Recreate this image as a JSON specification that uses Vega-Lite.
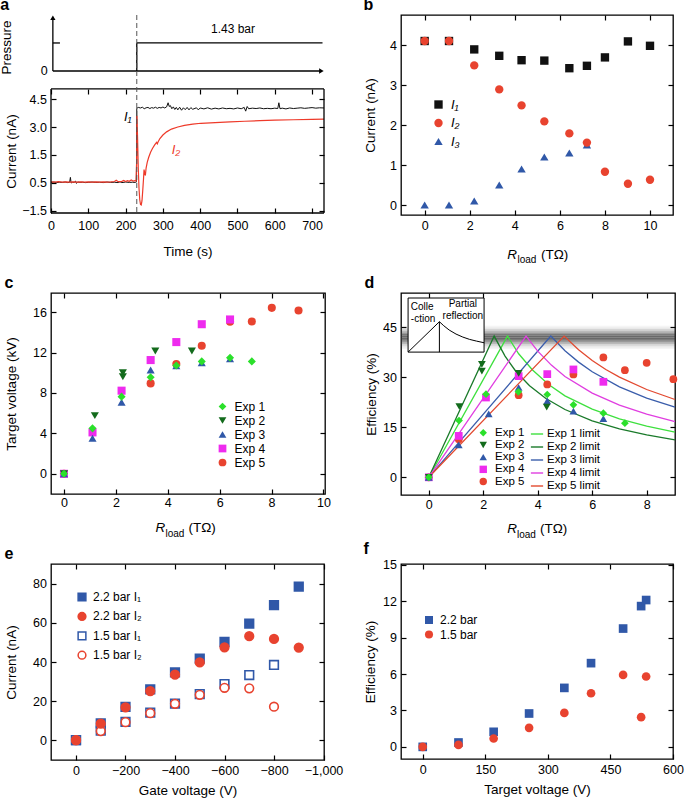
{
"$schema":"https://vega.github.io/schema/vega-lite/v6.json",
"padding":{"left":0,"top":-4,"right":0,"bottom":0},
"background":"white",
"config":{
 "font":"Liberation Sans",
 "view":{"stroke":"#000","strokeWidth":1.3},
 "axis":{"grid":false,"domain":false,"tickColor":"#000","tickSize":-5,"tickWidth":1.2,"labelFontSize":12.5,"labelColor":"#000","labelFlush":false,"labelOverlap":false,"titleFontSize":13.5,"titleFontWeight":"normal","titleColor":"#000"},
 "axisX":{"labelPadding":9,"titlePadding":6},
 "axisY":{"labelPadding":9.5,"titlePadding":8},
 "legend":{"labelFontSize":12,"labelColor":"#000","padding":0,"titlePadding":0},
 "title":{"fontSize":16,"fontWeight":"bold","anchor":"start","frame":"bounds","baseline":"alphabetic","offset":1.5,"color":"#000"}
},
"columns":2,
"bounds":"flush",
"spacing":{"row":69,"column":76},
"resolve":{"scale":{"color":"independent","shape":"independent","fill":"independent","stroke":"independent","opacity":"independent"}},
"concat":[
 {"width":273,"height":209,"view":{"stroke":null},"title":{"text":"a"},
  "layer":[
   {"layer":[
    {"data":{"values":[{"t":5,"p":0,"t2":722,"p2":0},{"t":5,"p":0,"t2":5,"p2":2.7},{"t":5,"p":1.43,"t2":24,"p2":1.43},{"t":230,"p":0,"t2":230,"p2":1.43},{"t":230,"p":1.43,"t2":728,"p2":1.43}]},
     "mark":{"type":"rule","color":"#000","strokeWidth":1.3},
     "encoding":{"x":{"field":"t","type":"quantitative","scale":{"domain":[0,732],"nice":false,"zero":false},"axis":null},"x2":{"field":"t2"},
      "y":{"field":"p","type":"quantitative","scale":{"domain":[-7.806,2.857],"nice":false,"zero":false},"axis":null},"y2":{"field":"p2"}}},
    {"data":{"values":[{"t":5,"p":2.72,"dir":"up"},{"t":725,"p":0,"dir":"right"}]},
     "mark":{"type":"point","filled":true,"color":"#000","size":28,"opacity":1},
     "encoding":{"x":{"field":"t","type":"quantitative","scale":{"domain":[0,732],"nice":false,"zero":false},"axis":null},"y":{"field":"p","type":"quantitative","scale":{"domain":[-7.806,2.857],"nice":false,"zero":false},"axis":null},
      "shape":{"field":"dir","type":"nominal","scale":{"domain":["up","right"],"range":["triangle-up","triangle-right"]},"legend":null}}},
    {"data":{"values":[{"t":488,"p":2.14,"txt":"1.43 bar"}]},
     "mark":{"type":"text","fontSize":12,"color":"#000"},
     "encoding":{"x":{"field":"t","type":"quantitative","scale":{"domain":[0,732],"nice":false,"zero":false},"axis":null},"y":{"field":"p","type":"quantitative","scale":{"domain":[-7.806,2.857],"nice":false,"zero":false},"axis":null},"text":{"field":"txt"}}},
    {"data":{"values":[{"t":-9,"p":0,"txt":"0"}]},
     "mark":{"type":"text","fontSize":12.5,"align":"right","baseline":"middle","color":"#000"},
     "encoding":{"x":{"field":"t","type":"quantitative","scale":{"domain":[0,732],"nice":false,"zero":false},"axis":null},"y":{"field":"p","type":"quantitative","scale":{"domain":[-7.806,2.857],"nice":false,"zero":false},"axis":null},"text":{"field":"txt"}}},
    {"data":{"values":[{"t":-117,"p":1.2,"txt":"Pressure"}]},
     "mark":{"type":"text","fontSize":13.5,"angle":270,"align":"center","baseline":"middle","color":"#000"},
     "encoding":{"x":{"field":"t","type":"quantitative","scale":{"domain":[0,732],"nice":false,"zero":false},"axis":null},"y":{"field":"p","type":"quantitative","scale":{"domain":[-7.806,2.857],"nice":false,"zero":false},"axis":null},"text":{"field":"txt"}}}
   ]},
   {"layer":[
    {"data":{"values":[{"t":0,"v":0.03},{"t":8,"v":0.05},{"t":15,"v":0.02},{"t":22,"v":0.04},{"t":30,"v":0.03},{"t":38,"v":0.05},{"t":45,"v":0.02},{"t":50,"v":0.04},{"t":52,"v":0.3},{"t":54,"v":0.0},{"t":58,"v":0.04},{"t":62,"v":0.03},{"t":66,"v":0.1},{"t":68,"v":-0.02},{"t":72,"v":0.05},{"t":78,"v":0.03},{"t":85,"v":0.04},{"t":92,"v":0.02},{"t":100,"v":0.03},{"t":110,"v":0.05},{"t":120,"v":0.03},{"t":130,"v":0.04},{"t":140,"v":0.02},{"t":150,"v":0.05},{"t":160,"v":0.03},{"t":170,"v":0.04},{"t":180,"v":0.02},{"t":185,"v":0.06},{"t":190,"v":0.02},{"t":200,"v":0.05},{"t":210,"v":0.03},{"t":218,"v":0.04},{"t":226,"v":0.03},{"t":229,"v":0.05},{"t":230,"v":4.0},{"t":234,"v":4.05},{"t":240,"v":4.02},{"t":245,"v":4.06},{"t":250,"v":3.98},{"t":255,"v":4.03},{"t":260,"v":4.05},{"t":265,"v":3.99},{"t":270,"v":4.04},{"t":275,"v":4.01},{"t":280,"v":4.06},{"t":285,"v":4.0},{"t":290,"v":4.05},{"t":295,"v":4.02},{"t":300,"v":4.07},{"t":305,"v":4.02},{"t":310,"v":4.08},{"t":314,"v":4.3},{"t":317,"v":4.1},{"t":320,"v":4.15},{"t":324,"v":3.98},{"t":328,"v":4.08},{"t":332,"v":3.94},{"t":336,"v":4.05},{"t":340,"v":3.92},{"t":345,"v":4.06},{"t":350,"v":3.9},{"t":355,"v":4.03},{"t":360,"v":3.93},{"t":365,"v":4.05},{"t":370,"v":3.92},{"t":375,"v":4.04},{"t":380,"v":3.95},{"t":390,"v":4.03},{"t":395,"v":3.92},{"t":400,"v":4.02},{"t":410,"v":3.97},{"t":420,"v":4.03},{"t":430,"v":3.96},{"t":440,"v":4.01},{"t":450,"v":3.97},{"t":460,"v":4.02},{"t":470,"v":3.98},{"t":480,"v":4.0},{"t":490,"v":3.97},{"t":500,"v":4.02},{"t":510,"v":3.98},{"t":518,"v":4.05},{"t":522,"v":3.85},{"t":526,"v":4.1},{"t":530,"v":3.98},{"t":540,"v":4.01},{"t":550,"v":3.99},{"t":560,"v":4.02},{"t":570,"v":3.98},{"t":580,"v":4.0},{"t":590,"v":3.98},{"t":600,"v":4.01},{"t":608,"v":3.99},{"t":611,"v":4.3},{"t":614,"v":3.98},{"t":620,"v":4.01},{"t":630,"v":3.97},{"t":640,"v":4.02},{"t":650,"v":3.99},{"t":660,"v":4.01},{"t":670,"v":4.03},{"t":680,"v":4.0},{"t":690,"v":4.02},{"t":700,"v":4.04},{"t":710,"v":4.01},{"t":720,"v":4.03},{"t":732,"v":4.02}]},
     "mark":{"type":"line","color":"#111","strokeWidth":1},
     "encoding":{"x":{"field":"t","type":"quantitative","scale":{"domain":[0,732],"nice":false,"zero":false},"axis":{"orient":"bottom","values":[0,100,200,300,400,500,600,700],"offset":-11,"labelPadding":11,"title":"Time (s)","titlePadding":13}},
      "y":{"field":"v","type":"quantitative","scale":{"domain":[-2.199,9.004],"nice":false,"zero":false},"axis":{"orient":"left","values":[4.5,3,1.5,0,-1.5],"labelExpr":"datum.value == 0 ? '0.5' : format(datum.value, '.1f')","title":"Current (nA)","titlePadding":3,"titleY":136}}}},
    {"data":{"values":[{"t":0,"v":0.06},{"t":10,"v":0.05},{"t":20,"v":0.07},{"t":30,"v":0.05},{"t":40,"v":0.06},{"t":50,"v":0.05},{"t":60,"v":0.06},{"t":70,"v":0.05},{"t":80,"v":0.06},{"t":90,"v":0.05},{"t":100,"v":0.06},{"t":110,"v":0.05},{"t":120,"v":0.06},{"t":130,"v":0.05},{"t":140,"v":0.06},{"t":150,"v":0.05},{"t":160,"v":0.06},{"t":170,"v":0.08},{"t":175,"v":0.15},{"t":180,"v":0.07},{"t":190,"v":0.09},{"t":195,"v":0.14},{"t":200,"v":0.08},{"t":205,"v":0.12},{"t":210,"v":0.09},{"t":215,"v":0.16},{"t":220,"v":0.1},{"t":225,"v":0.13},{"t":228,"v":0.1},{"t":229.5,"v":1.0},{"t":230.5,"v":3.6},{"t":232,"v":2.5},{"t":234,"v":0.8},{"t":236,"v":-0.3},{"t":238,"v":-0.9},{"t":240,"v":-1.15},{"t":242,"v":-1.18},{"t":244,"v":-0.95},{"t":246,"v":-0.4},{"t":248,"v":0.2},{"t":249.5,"v":0.72},{"t":251,"v":0.55},{"t":253,"v":0.4},{"t":255,"v":0.8},{"t":258,"v":1.1},{"t":262,"v":1.38},{"t":267,"v":1.65},{"t":272,"v":1.85},{"t":278,"v":2.04},{"t":283,"v":2.18},{"t":285,"v":2.1},{"t":287,"v":2.2},{"t":292,"v":2.38},{"t":300,"v":2.57},{"t":310,"v":2.74},{"t":323,"v":2.89},{"t":340,"v":3.0},{"t":358,"v":3.09},{"t":380,"v":3.15},{"t":402,"v":3.2},{"t":440,"v":3.24},{"t":480,"v":3.27},{"t":520,"v":3.31},{"t":560,"v":3.34},{"t":600,"v":3.37},{"t":650,"v":3.39},{"t":700,"v":3.41},{"t":732,"v":3.42}]},
     "mark":{"type":"line","color":"#ee3a2a","strokeWidth":1.2},
     "encoding":{"x":{"field":"t","type":"quantitative","scale":{"domain":[0,732],"nice":false,"zero":false},"axis":{"orient":"top","offset":-74,"values":[0,100,200,300,400,500,600,700],"labels":false,"title":null}},
      "y":{"field":"v","type":"quantitative","scale":{"domain":[-2.199,9.004],"nice":false,"zero":false},"axis":{"orient":"right","values":[4.5,3,1.5,0,-1.5],"labels":false,"title":null}}}},
    {"data":{"values":[{"t":0,"t2":732,"v":5.04,"v2":5.04},{"t":0,"t2":732,"v":-1.61,"v2":-1.61},{"t":0,"t2":0,"v":-1.61,"v2":5.04},{"t":732,"t2":732,"v":-1.61,"v2":5.04}]},
     "mark":{"type":"rule","color":"#000","strokeWidth":1.3},
     "encoding":{"x":{"field":"t","type":"quantitative","scale":{"domain":[0,732],"nice":false,"zero":false},"axis":null},"x2":{"field":"t2"},
      "y":{"field":"v","type":"quantitative","scale":{"domain":[-2.199,9.004],"nice":false,"zero":false},"axis":null},"y2":{"field":"v2"}}},
    {"data":{"values":[{"t":230,"v":9.004,"v2":-1.61}]},
     "mark":{"type":"rule","color":"#555","strokeDash":[5,3],"strokeWidth":1},
     "encoding":{"x":{"field":"t","type":"quantitative","scale":{"domain":[0,732],"nice":false,"zero":false},"axis":null},
      "y":{"field":"v","type":"quantitative","scale":{"domain":[-2.199,9.004],"nice":false,"zero":false},"axis":null},"y2":{"field":"v2"}}},
    {"data":{"values":[{"t":206,"v":3.54,"txt":"I₁"}]},"mark":{"type":"text","fontStyle":"italic","fontSize":13,"color":"#000"},
     "encoding":{"x":{"field":"t","type":"quantitative","scale":{"domain":[0,732],"nice":false,"zero":false},"axis":null},"y":{"field":"v","type":"quantitative","scale":{"domain":[-2.199,9.004],"nice":false,"zero":false},"axis":null},"text":{"field":"txt"}}},
    {"data":{"values":[{"t":335,"v":1.77,"txt":"I₂"}]},"mark":{"type":"text","fontStyle":"italic","fontSize":13,"color":"#ee3a2a"},
     "encoding":{"x":{"field":"t","type":"quantitative","scale":{"domain":[0,732],"nice":false,"zero":false},"axis":null},"y":{"field":"v","type":"quantitative","scale":{"domain":[-2.199,9.004],"nice":false,"zero":false},"axis":null},"text":{"field":"txt"}}}
   ],
   "resolve":{"axis":{"x":"independent","y":"independent"}}}
  ],
  "resolve":{"scale":{"y":"independent"},"axis":{"x":"independent","y":"independent"}}},
 {"width":272,"height":200,"title":{"text":"b"},
  "data":{"values":[
   {"r":0,"c":0,"s":"I₃"},{"r":1.08,"c":0,"s":"I₃"},{"r":2.2,"c":0.1,"s":"I₃"},{"r":3.31,"c":0.5,"s":"I₃"},{"r":4.3,"c":0.9,"s":"I₃"},{"r":5.31,"c":1.2,"s":"I₃"},{"r":6.42,"c":1.3,"s":"I₃"},{"r":7.2,"c":1.5,"s":"I₃"},
   {"r":0,"c":4.1,"s":"I₁"},{"r":1.08,"c":4.1,"s":"I₁"},{"r":2.2,"c":3.89,"s":"I₁"},{"r":3.31,"c":3.73,"s":"I₁"},{"r":4.3,"c":3.62,"s":"I₁"},{"r":5.31,"c":3.61,"s":"I₁"},{"r":6.42,"c":3.42,"s":"I₁"},{"r":7.2,"c":3.48,"s":"I₁"},{"r":8.0,"c":3.69,"s":"I₁"},{"r":9.02,"c":4.09,"s":"I₁"},{"r":10.0,"c":3.98,"s":"I₁"},
   {"r":0,"c":4.1,"s":"I₂"},{"r":1.08,"c":4.1,"s":"I₂"},{"r":2.2,"c":3.49,"s":"I₂"},{"r":3.31,"c":2.89,"s":"I₂"},{"r":4.3,"c":2.49,"s":"I₂"},{"r":5.31,"c":2.09,"s":"I₂"},{"r":6.42,"c":1.79,"s":"I₂"},{"r":7.2,"c":1.56,"s":"I₂"},{"r":8.0,"c":0.83,"s":"I₂"},{"r":9.02,"c":0.53,"s":"I₂"},{"r":10.0,"c":0.63,"s":"I₂"}
  ]},
  "layer":[
   {"mark":{"type":"point","filled":true,"size":70,"opacity":1},
    "encoding":{"x":{"field":"r","type":"quantitative","scale":{"domain":[-1.05,11.02],"nice":false,"zero":false},"axis":{"orient":"bottom","values":[0,2,4,6,8,10],"title":"R","titleFontStyle":"italic","titleX":105.7,"titleY":43,"titleAlign":"left","titleBaseline":"alphabetic"}},
     "y":{"field":"c","type":"quantitative","scale":{"domain":[-0.25,4.75],"nice":false,"zero":false},"axis":{"orient":"left","values":[0,1,2,3,4],"title":"Current (nA)","titlePadding":12}},
     "color":{"field":"s","type":"nominal","scale":{"domain":["I₁","I₂","I₃"],"range":["#111111","#e8432f","#3058a8"]},"legend":{"orient":"none","legendX":31,"legendY":83,"title":null,"labelFontSize":13,"labelFontStyle":"italic","rowPadding":4.5,"labelOffset":6,"symbolSize":70}},
     "shape":{"field":"s","type":"nominal","scale":{"domain":["I₁","I₂","I₃"],"range":["square","circle","triangle-up"]},"legend":{"orient":"none","legendX":31,"legendY":83,"title":null,"labelFontSize":13,"labelFontStyle":"italic","rowPadding":4.5,"labelOffset":6,"symbolSize":70}}}},
   {"mark":{"type":"point","opacity":0},
    "encoding":{"x":{"field":"r","type":"quantitative","scale":{"domain":[-1.05,11.02],"nice":false,"zero":false},"axis":{"orient":"bottom","values":[],"labels":false,"ticks":false,"title":"load","titleFontSize":10,"titleX":116,"titleY":47.5,"titleAlign":"left","titleBaseline":"alphabetic"}},
     "y":{"field":"c","type":"quantitative","scale":{"domain":[-0.25,4.75],"nice":false,"zero":false},"axis":{"orient":"right","values":[0,1,2,3,4],"labels":false,"title":null}}}},
   {"mark":{"type":"point","opacity":0},
    "encoding":{"x":{"field":"r","type":"quantitative","scale":{"domain":[-1.05,11.02],"nice":false,"zero":false},"axis":{"orient":"bottom","values":[],"labels":false,"ticks":false,"title":"(TΩ)","titleX":139.5,"titleY":43,"titleAlign":"left","titleBaseline":"alphabetic"}},
     "y":{"field":"c","type":"quantitative","scale":{"domain":[-0.25,4.75],"nice":false,"zero":false},"axis":null}}},
   {"mark":{"type":"point","opacity":0},
    "encoding":{"x":{"field":"r","type":"quantitative","scale":{"domain":[-1.05,11.02],"nice":false,"zero":false},"axis":{"orient":"top","values":[0,2,4,6,8,10],"labels":false,"title":null}},
     "y":{"field":"c","type":"quantitative","scale":{"domain":[-0.25,4.75],"nice":false,"zero":false},"axis":null}}}
  ],
  "resolve":{"axis":{"x":"independent","y":"independent"}}},
 {"width":274,"height":201,"title":{"text":"c"},
  "data":{"values":[
   {"r":0,"v":0,"e":"Exp 5"},{"r":3.34,"v":8.95,"e":"Exp 5"},{"r":4.33,"v":10.86,"e":"Exp 5"},{"r":5.31,"v":12.67,"e":"Exp 5"},{"r":6.4,"v":15.05,"e":"Exp 5"},{"r":7.24,"v":15.08,"e":"Exp 5"},{"r":8.01,"v":16.43,"e":"Exp 5"},{"r":9.04,"v":16.16,"e":"Exp 5"},
   {"r":0,"v":0,"e":"Exp 4"},{"r":1.1,"v":4.1,"e":"Exp 4"},{"r":2.22,"v":8.23,"e":"Exp 4"},{"r":3.34,"v":11.26,"e":"Exp 4"},{"r":4.33,"v":13.04,"e":"Exp 4"},{"r":5.31,"v":14.81,"e":"Exp 4"},{"r":6.4,"v":15.28,"e":"Exp 4"},
   {"r":0,"v":0,"e":"Exp 3"},{"r":1.1,"v":3.52,"e":"Exp 3"},{"r":2.22,"v":7.08,"e":"Exp 3"},{"r":3.34,"v":10.27,"e":"Exp 3"},{"r":4.33,"v":10.7,"e":"Exp 3"},{"r":5.31,"v":11.0,"e":"Exp 3"},{"r":6.4,"v":11.4,"e":"Exp 3"},
   {"r":0,"v":0,"e":"Exp 2"},{"r":1.19,"v":5.76,"e":"Exp 2"},{"r":2.27,"v":10.0,"e":"Exp 2"},{"r":2.27,"v":9.6,"e":"Exp 2"},{"r":3.52,"v":12.15,"e":"Exp 2"},{"r":4.93,"v":12.15,"e":"Exp 2"},
   {"r":0,"v":0,"e":"Exp 1"},{"r":1.1,"v":4.5,"e":"Exp 1"},{"r":2.22,"v":7.64,"e":"Exp 1"},{"r":3.34,"v":9.55,"e":"Exp 1"},{"r":4.33,"v":10.73,"e":"Exp 1"},{"r":5.31,"v":11.13,"e":"Exp 1"},{"r":6.4,"v":11.49,"e":"Exp 1"},{"r":7.24,"v":11.13,"e":"Exp 1"}
  ]},
  "layer":[
   {"mark":{"type":"point","filled":true,"size":65,"opacity":1},
    "encoding":{"x":{"field":"r","type":"quantitative","scale":{"domain":[-0.5,10.06],"nice":false,"zero":false},"axis":{"orient":"bottom","labelPadding":7,"values":[0,2,4,6,8,10],"title":"R","titleFontStyle":"italic","titleX":104,"titleY":37.7,"titleAlign":"left","titleBaseline":"alphabetic"}},
     "y":{"field":"v","type":"quantitative","scale":{"domain":[-2,17.9],"nice":false,"zero":false},"axis":{"orient":"left","values":[0,4,8,12,16],"title":"Target voltage (kV)","titlePadding":14}},
     "color":{"field":"e","type":"nominal","scale":{"domain":["Exp 1","Exp 2","Exp 3","Exp 4","Exp 5"],"range":["#2be02b","#136b1c","#3058a8","#ee2bee","#e8432f"]},"legend":{"orient":"none","legendX":165.5,"legendY":107.5,"title":null,"labelFontSize":12,"rowPadding":2,"labelOffset":6,"symbolSize":60}},
     "shape":{"field":"e","type":"nominal","scale":{"domain":["Exp 1","Exp 2","Exp 3","Exp 4","Exp 5"],"range":["diamond","triangle-down","triangle-up","square","circle"]},"legend":{"orient":"none","legendX":165.5,"legendY":107.5,"title":null,"labelFontSize":12,"rowPadding":2,"labelOffset":6,"symbolSize":60}}}},
   {"mark":{"type":"point","opacity":0},
    "encoding":{"x":{"field":"r","type":"quantitative","scale":{"domain":[-0.5,10.06],"nice":false,"zero":false},"axis":{"orient":"bottom","values":[],"labels":false,"ticks":false,"title":"load","titleFontSize":10,"titleX":114,"titleY":42,"titleAlign":"left","titleBaseline":"alphabetic"}},
     "y":{"field":"v","type":"quantitative","scale":{"domain":[-2,17.9],"nice":false,"zero":false},"axis":{"orient":"right","values":[0,4,8,12,16],"labels":false,"title":null}}}},
   {"mark":{"type":"point","opacity":0},
    "encoding":{"x":{"field":"r","type":"quantitative","scale":{"domain":[-0.5,10.06],"nice":false,"zero":false},"axis":{"orient":"bottom","values":[],"labels":false,"ticks":false,"title":"(TΩ)","titleX":137,"titleY":37.7,"titleAlign":"left","titleBaseline":"alphabetic"}},
     "y":{"field":"v","type":"quantitative","scale":{"domain":[-2,17.9],"nice":false,"zero":false},"axis":null}}},
   {"mark":{"type":"point","opacity":0},
    "encoding":{"x":{"field":"r","type":"quantitative","scale":{"domain":[-0.5,10.06],"nice":false,"zero":false},"axis":{"orient":"top","values":[0,2,4,6,8,10],"labels":false,"title":null}},
     "y":{"field":"v","type":"quantitative","scale":{"domain":[-2,17.9],"nice":false,"zero":false},"axis":null}}}
  ],
  "resolve":{"axis":{"x":"independent","y":"independent"}}},
 {"width":274,"height":202,"title":{"text":"d"},
  "layer":[
   {"data":{"values":[{"y0":38.4,"y1":38.9,"g":0.068},{"y0":38.9,"y1":39.4,"g":0.145},{"y0":39.4,"y1":39.9,"g":0.275},{"y0":39.9,"y1":40.4,"g":0.458},{"y0":40.4,"y1":40.9,"g":0.67},{"y0":40.9,"y1":41.4,"g":0.866},{"y0":41.4,"y1":41.9,"g":0.984},{"y0":41.9,"y1":42.4,"g":0.984},{"y0":42.4,"y1":42.9,"g":0.866},{"y0":42.9,"y1":43.4,"g":0.67},{"y0":43.4,"y1":43.9,"g":0.458},{"y0":43.9,"y1":44.4,"g":0.275},{"y0":44.4,"y1":44.9,"g":0.145},{"y0":44.9,"y1":45.4,"g":0.068}]},
    "mark":{"type":"rect","color":"#333"},
    "encoding":{"y":{"field":"y0","type":"quantitative","scale":{"domain":[-5.3,55.2],"nice":false,"zero":false},"axis":null},"y2":{"field":"y1"},
     "opacity":{"field":"g","type":"quantitative","scale":{"domain":[0,1],"range":[0,0.75]},"legend":null}}},
   {"data":{"values":[{"x0":-0.76,"x1":2.03,"y0":37.5,"y1":53.7}]},
    "mark":{"type":"rect","fill":"white","stroke":"#000","strokeWidth":1},
    "encoding":{"x":{"field":"x0","type":"quantitative","scale":{"domain":[-1.02,9.04],"nice":false,"zero":false},"axis":{"orient":"bottom","values":[],"labels":false,"ticks":false,"title":"(TΩ)","titleX":138.5,"titleY":37.7,"titleAlign":"left","titleBaseline":"alphabetic"}},"x2":{"field":"x1"},
     "y":{"field":"y0","type":"quantitative","scale":{"domain":[-5.3,55.2],"nice":false,"zero":false},"axis":null},"y2":{"field":"y1"}}},
   {"data":{"values":[{"x0":-0.76,"y0":37.5,"x1":0.39,"y1":46.6},{"x0":0.39,"y0":37.5,"x1":0.39,"y1":46.6}]},
    "mark":{"type":"rule","color":"#000","strokeWidth":1},
    "encoding":{"x":{"field":"x0","type":"quantitative","scale":{"domain":[-1.02,9.04],"nice":false,"zero":false},"axis":null},"x2":{"field":"x1"},
     "y":{"field":"y0","type":"quantitative","scale":{"domain":[-5.3,55.2],"nice":false,"zero":false},"axis":null},"y2":{"field":"y1"}}},
   {"data":{"values":[{"x":0.39,"y":46.6},{"x":0.55,"y":45.4},{"x":0.75,"y":44.1},{"x":1.0,"y":42.9},{"x":1.25,"y":42.0},{"x":1.5,"y":41.3},{"x":1.75,"y":40.8},{"x":2.03,"y":40.3}]},
    "mark":{"type":"line","color":"#000","strokeWidth":1},
    "encoding":{"x":{"field":"x","type":"quantitative","scale":{"domain":[-1.02,9.04],"nice":false,"zero":false},"axis":{"orient":"top","values":[0,2,4,6,8],"labels":false,"title":null}},
     "y":{"field":"y","type":"quantitative","scale":{"domain":[-5.3,55.2],"nice":false,"zero":false},"axis":null}}},
   {"data":{"values":[{"x":-0.66,"y":51.0,"txt":"Colle"},{"x":-0.66,"y":47.4,"txt":"-ction"}]},
    "mark":{"type":"text","align":"left","fontSize":10,"color":"#000"},
    "encoding":{"x":{"field":"x","type":"quantitative","scale":{"domain":[-1.02,9.04],"nice":false,"zero":false},"axis":null},"y":{"field":"y","type":"quantitative","scale":{"domain":[-5.3,55.2],"nice":false,"zero":false},"axis":null},"text":{"field":"txt"}}},
   {"data":{"values":[{"x":1.25,"y":52.0,"txt":"Partial"},{"x":1.25,"y":48.2,"txt":"reflection"}]},
    "mark":{"type":"text","align":"center","fontSize":10,"color":"#000"},
    "encoding":{"x":{"field":"x","type":"quantitative","scale":{"domain":[-1.02,9.04],"nice":false,"zero":false},"axis":null},"y":{"field":"y","type":"quantitative","scale":{"domain":[-5.3,55.2],"nice":false,"zero":false},"axis":null},"text":{"field":"txt"}}},
   {"data":{"values":[
     {"x":0,"e":0,"lim":"Exp 1 limit"},{"x":2.89,"e":42.3,"lim":"Exp 1 limit"},{"x":3.3,"e":37.0,"lim":"Exp 1 limit"},{"x":3.8,"e":32.2,"lim":"Exp 1 limit"},{"x":4.4,"e":27.8,"lim":"Exp 1 limit"},{"x":5,"e":24.4,"lim":"Exp 1 limit"},{"x":6,"e":20.4,"lim":"Exp 1 limit"},{"x":7,"e":17.5,"lim":"Exp 1 limit"},{"x":8,"e":15.3,"lim":"Exp 1 limit"},{"x":9.04,"e":13.5,"lim":"Exp 1 limit"},
     {"x":0,"e":0,"lim":"Exp 2 limit"},{"x":2.4,"e":42.3,"lim":"Exp 2 limit"},{"x":2.8,"e":36.3,"lim":"Exp 2 limit"},{"x":3.2,"e":31.7,"lim":"Exp 2 limit"},{"x":3.7,"e":27.4,"lim":"Exp 2 limit"},{"x":4.3,"e":23.6,"lim":"Exp 2 limit"},{"x":5,"e":20.3,"lim":"Exp 2 limit"},{"x":6,"e":16.9,"lim":"Exp 2 limit"},{"x":7,"e":14.5,"lim":"Exp 2 limit"},{"x":8,"e":12.7,"lim":"Exp 2 limit"},{"x":9.04,"e":11.2,"lim":"Exp 2 limit"},
     {"x":0,"e":0,"lim":"Exp 3 limit"},{"x":4.48,"e":42.3,"lim":"Exp 3 limit"},{"x":5,"e":37.9,"lim":"Exp 3 limit"},{"x":5.5,"e":34.5,"lim":"Exp 3 limit"},{"x":6,"e":31.6,"lim":"Exp 3 limit"},{"x":7,"e":27.1,"lim":"Exp 3 limit"},{"x":8,"e":23.7,"lim":"Exp 3 limit"},{"x":9.04,"e":21.0,"lim":"Exp 3 limit"},
     {"x":0,"e":0,"lim":"Exp 4 limit"},{"x":3.57,"e":42.3,"lim":"Exp 4 limit"},{"x":4,"e":37.8,"lim":"Exp 4 limit"},{"x":4.5,"e":33.6,"lim":"Exp 4 limit"},{"x":5,"e":30.2,"lim":"Exp 4 limit"},{"x":6,"e":25.2,"lim":"Exp 4 limit"},{"x":7,"e":21.6,"lim":"Exp 4 limit"},{"x":8,"e":18.9,"lim":"Exp 4 limit"},{"x":9.04,"e":16.7,"lim":"Exp 4 limit"},
     {"x":0,"e":0,"lim":"Exp 5 limit"},{"x":4.97,"e":42.3,"lim":"Exp 5 limit"},{"x":5.5,"e":38.2,"lim":"Exp 5 limit"},{"x":6,"e":35.0,"lim":"Exp 5 limit"},{"x":6.5,"e":32.3,"lim":"Exp 5 limit"},{"x":7,"e":30.0,"lim":"Exp 5 limit"},{"x":8,"e":26.3,"lim":"Exp 5 limit"},{"x":9.04,"e":23.3,"lim":"Exp 5 limit"}
    ]},
    "mark":{"type":"line","strokeWidth":1.3},
    "encoding":{"x":{"field":"x","type":"quantitative","scale":{"domain":[-1.02,9.04],"nice":false,"zero":false},"axis":{"orient":"bottom","values":[],"labels":false,"ticks":false,"title":"load","titleFontSize":10,"titleX":115.5,"titleY":42,"titleAlign":"left","titleBaseline":"alphabetic"}},
     "y":{"field":"e","type":"quantitative","scale":{"domain":[-5.3,55.2],"nice":false,"zero":false},"axis":{"orient":"right","values":[0,15,30,45],"labels":false,"title":null}},
     "stroke":{"field":"lim","type":"nominal","scale":{"domain":["Exp 1 limit","Exp 2 limit","Exp 3 limit","Exp 4 limit","Exp 5 limit"],"range":["#3ee03e","#1a7a2a","#3a5dab","#e03ee0","#e2492f"]},"legend":{"orient":"none","legendX":129,"legendY":134,"title":null,"labelFontSize":11.5,"rowPadding":-0.8,"labelOffset":3,"symbolSize":150,"symbolStrokeWidth":1.4}}}},
   {"data":{"values":[
     {"x":0,"e":0,"exp":"Exp 5"},{"x":1.1,"e":11.4,"exp":"Exp 5"},{"x":3.3,"e":24.6,"exp":"Exp 5"},{"x":4.35,"e":27.8,"exp":"Exp 5"},{"x":5.31,"e":30.8,"exp":"Exp 5"},{"x":6.41,"e":35.9,"exp":"Exp 5"},{"x":7.2,"e":32.1,"exp":"Exp 5"},{"x":8.0,"e":34.3,"exp":"Exp 5"},{"x":8.98,"e":29.4,"exp":"Exp 5"},
     {"x":0,"e":0,"exp":"Exp 4"},{"x":1.1,"e":12.4,"exp":"Exp 4"},{"x":2.1,"e":23.9,"exp":"Exp 4"},{"x":3.3,"e":30.3,"exp":"Exp 4"},{"x":4.35,"e":30.9,"exp":"Exp 4"},{"x":5.31,"e":32.3,"exp":"Exp 4"},{"x":6.41,"e":28.6,"exp":"Exp 4"},
     {"x":0,"e":0,"exp":"Exp 3"},{"x":1.1,"e":9.7,"exp":"Exp 3"},{"x":2.2,"e":19.0,"exp":"Exp 3"},{"x":3.3,"e":26.9,"exp":"Exp 3"},{"x":4.35,"e":22.9,"exp":"Exp 3"},{"x":5.31,"e":19.8,"exp":"Exp 3"},{"x":6.41,"e":17.6,"exp":"Exp 3"},
     {"x":0,"e":0,"exp":"Exp 2"},{"x":1.12,"e":21.2,"exp":"Exp 2"},{"x":1.95,"e":33.8,"exp":"Exp 2"},{"x":1.95,"e":31.8,"exp":"Exp 2"},{"x":3.3,"e":31.1,"exp":"Exp 2"},{"x":4.33,"e":21.0,"exp":"Exp 2"},
     {"x":0,"e":0,"exp":"Exp 1"},{"x":1.11,"e":17.0,"exp":"Exp 1"},{"x":2.1,"e":24.9,"exp":"Exp 1"},{"x":3.29,"e":25.6,"exp":"Exp 1"},{"x":4.35,"e":24.8,"exp":"Exp 1"},{"x":5.31,"e":21.7,"exp":"Exp 1"},{"x":6.41,"e":19.2,"exp":"Exp 1"},{"x":7.2,"e":16.2,"exp":"Exp 1"}
    ]},
    "mark":{"type":"point","filled":true,"size":60,"opacity":1},
    "encoding":{"x":{"field":"x","type":"quantitative","scale":{"domain":[-1.02,9.04],"nice":false,"zero":false},"axis":{"orient":"bottom","labelPadding":8,"values":[0,2,4,6,8],"title":"R","titleFontStyle":"italic","titleX":105.7,"titleY":37.7,"titleAlign":"left","titleBaseline":"alphabetic"}},
     "y":{"field":"e","type":"quantitative","scale":{"domain":[-5.3,55.2],"nice":false,"zero":false},"axis":{"orient":"left","values":[0,15,30,45],"title":"Efficiency (%)","titlePadding":4}},
     "color":{"field":"exp","type":"nominal","scale":{"domain":["Exp 1","Exp 2","Exp 3","Exp 4","Exp 5"],"range":["#2be02b","#136b1c","#3058a8","#ee2bee","#e8432f"]},"legend":{"orient":"none","legendX":76.5,"legendY":134,"title":null,"labelFontSize":11.5,"rowPadding":-0.8,"labelOffset":6,"symbolSize":55}},
     "shape":{"field":"exp","type":"nominal","scale":{"domain":["Exp 1","Exp 2","Exp 3","Exp 4","Exp 5"],"range":["diamond","triangle-down","triangle-up","square","circle"]},"legend":{"orient":"none","legendX":76.5,"legendY":134,"title":null,"labelFontSize":11.5,"rowPadding":-0.8,"labelOffset":6,"symbolSize":55}}}}
  ],
  "resolve":{"axis":{"x":"independent","y":"independent"}}},
 {"width":273,"height":196,"title":{"text":"e"},
  "data":{"values":[
   {"g":0,"c":0,"s":"2.2 bar I₁"},{"g":-100,"c":8.5,"s":"2.2 bar I₁"},{"g":-200,"c":17.0,"s":"2.2 bar I₁"},{"g":-300,"c":26.0,"s":"2.2 bar I₁"},{"g":-400,"c":34.7,"s":"2.2 bar I₁"},{"g":-500,"c":41.7,"s":"2.2 bar I₁"},{"g":-600,"c":50.3,"s":"2.2 bar I₁"},{"g":-700,"c":59.7,"s":"2.2 bar I₁"},{"g":-800,"c":69.1,"s":"2.2 bar I₁"},{"g":-900,"c":78.6,"s":"2.2 bar I₁"},
   {"g":0,"c":0,"s":"1.5 bar I₁"},{"g":-100,"c":4.8,"s":"1.5 bar I₁"},{"g":-200,"c":9.3,"s":"1.5 bar I₁"},{"g":-300,"c":14.1,"s":"1.5 bar I₁"},{"g":-400,"c":18.7,"s":"1.5 bar I₁"},{"g":-500,"c":23.6,"s":"1.5 bar I₁"},{"g":-600,"c":28.7,"s":"1.5 bar I₁"},{"g":-700,"c":33.3,"s":"1.5 bar I₁"},{"g":-800,"c":38.5,"s":"1.5 bar I₁"},
   {"g":0,"c":0,"s":"1.5 bar I₂"},{"g":-100,"c":4.6,"s":"1.5 bar I₂"},{"g":-200,"c":9.2,"s":"1.5 bar I₂"},{"g":-300,"c":13.8,"s":"1.5 bar I₂"},{"g":-400,"c":18.6,"s":"1.5 bar I₂"},{"g":-500,"c":23.2,"s":"1.5 bar I₂"},{"g":-600,"c":26.8,"s":"1.5 bar I₂"},{"g":-700,"c":26.5,"s":"1.5 bar I₂"},{"g":-800,"c":17.1,"s":"1.5 bar I₂"},
   {"g":0,"c":0,"s":"2.2 bar I₂"},{"g":-100,"c":8.4,"s":"2.2 bar I₂"},{"g":-200,"c":16.8,"s":"2.2 bar I₂"},{"g":-300,"c":25.1,"s":"2.2 bar I₂"},{"g":-400,"c":33.5,"s":"2.2 bar I₂"},{"g":-500,"c":39.8,"s":"2.2 bar I₂"},{"g":-600,"c":47.5,"s":"2.2 bar I₂"},{"g":-700,"c":53.2,"s":"2.2 bar I₂"},{"g":-800,"c":51.8,"s":"2.2 bar I₂"},{"g":-900,"c":47.4,"s":"2.2 bar I₂"}
  ]},
  "layer":[
   {"mark":{"type":"point","filled":false,"size":75,"strokeWidth":1.6,"opacity":1},
    "encoding":{"x":{"field":"g","type":"quantitative","scale":{"domain":[101,-1002],"nice":false,"zero":false},"axis":{"orient":"bottom","values":[0,-200,-400,-600,-800,-1000],"format":",.0f","title":"Gate voltage (V)","titlePadding":7}},
     "y":{"field":"c","type":"quantitative","scale":{"domain":[-10.2,90.2],"nice":false,"zero":false},"axis":{"orient":"left","values":[0,20,40,60,80],"title":"Current (nA)","titlePadding":14}},
     "color":{"field":"s","type":"nominal","scale":{"domain":["2.2 bar I₁","2.2 bar I₂","1.5 bar I₁","1.5 bar I₂"],"range":["#3058a8","#e8432f","#3058a8","#e8432f"]},"legend":{"orient":"none","legendX":25,"legendY":27,"title":null,"labelFontSize":12,"rowPadding":5.4,"labelOffset":5,"symbolSize":60,"symbolStrokeWidth":1.5}},
     "fill":{"field":"s","type":"nominal","scale":{"domain":["2.2 bar I₁","2.2 bar I₂","1.5 bar I₁","1.5 bar I₂"],"range":["#3058a8","#e8432f","#ffffff","#ffffff"]},"legend":{"orient":"none","legendX":25,"legendY":27,"title":null,"labelFontSize":12,"rowPadding":5.4,"labelOffset":5,"symbolSize":60,"symbolStrokeWidth":1.5}},
     "shape":{"field":"s","type":"nominal","scale":{"domain":["2.2 bar I₁","2.2 bar I₂","1.5 bar I₁","1.5 bar I₂"],"range":["square","circle","square","circle"]},"legend":{"orient":"none","legendX":25,"legendY":27,"title":null,"labelFontSize":12,"rowPadding":5.4,"labelOffset":5,"symbolSize":60,"symbolStrokeWidth":1.5}}}},
   {"mark":{"type":"point","opacity":0},
    "encoding":{"x":{"field":"g","type":"quantitative","scale":{"domain":[101,-1002],"nice":false,"zero":false},"axis":{"orient":"top","values":[0,-200,-400,-600,-800,-1000],"labels":false,"title":null}},
     "y":{"field":"c","type":"quantitative","scale":{"domain":[-10.2,90.2],"nice":false,"zero":false},"axis":{"orient":"right","values":[0,20,40,60,80],"labels":false,"title":null}}}}
  ],
  "resolve":{"axis":{"x":"independent","y":"independent"}}},
 {"width":272,"height":195,"title":{"text":"f"},
  "data":{"values":[
   {"v":0,"ef":0,"s":"2.2 bar"},{"v":85.7,"ef":0.36,"s":"2.2 bar"},{"v":170,"ef":1.24,"s":"2.2 bar"},{"v":255,"ef":2.75,"s":"2.2 bar"},{"v":339.5,"ef":4.86,"s":"2.2 bar"},{"v":403.5,"ef":6.9,"s":"2.2 bar"},{"v":480.4,"ef":9.75,"s":"2.2 bar"},{"v":523.6,"ef":11.6,"s":"2.2 bar"},{"v":535.6,"ef":12.1,"s":"2.2 bar"},
   {"v":0,"ef":0,"s":"1.5 bar"},{"v":85.7,"ef":0.16,"s":"1.5 bar"},{"v":170,"ef":0.69,"s":"1.5 bar"},{"v":255,"ef":1.57,"s":"1.5 bar"},{"v":339.5,"ef":2.8,"s":"1.5 bar"},{"v":403.5,"ef":4.42,"s":"1.5 bar"},{"v":480.4,"ef":5.93,"s":"1.5 bar"},{"v":523.6,"ef":2.45,"s":"1.5 bar"},{"v":535.6,"ef":5.8,"s":"1.5 bar"}
  ]},
  "layer":[
   {"mark":{"type":"point","filled":true,"size":75,"opacity":1},
    "encoding":{"x":{"field":"v","type":"quantitative","scale":{"domain":[-52.1,600],"nice":false,"zero":false},"axis":{"orient":"bottom","values":[0,150,300,450,600],"title":"Target voltage (V)","titlePadding":7}},
     "y":{"field":"ef","type":"quantitative","scale":{"domain":[-1,15.07],"nice":false,"zero":false},"axis":{"orient":"left","values":[0,3,6,9,12,15],"title":"Efficiency (%)","titlePadding":5}},
     "color":{"field":"s","type":"nominal","scale":{"domain":["2.2 bar","1.5 bar"],"range":["#3058a8","#e8432f"]},"legend":{"orient":"none","legendX":22,"legendY":50,"title":null,"labelFontSize":12,"rowPadding":2.5,"labelOffset":5,"symbolSize":65}},
     "shape":{"field":"s","type":"nominal","scale":{"domain":["2.2 bar","1.5 bar"],"range":["square","circle"]},"legend":{"orient":"none","legendX":22,"legendY":50,"title":null,"labelFontSize":12,"rowPadding":2.5,"labelOffset":5,"symbolSize":65}}}},
   {"mark":{"type":"point","opacity":0},
    "encoding":{"x":{"field":"v","type":"quantitative","scale":{"domain":[-52.1,600],"nice":false,"zero":false},"axis":{"orient":"top","values":[0,150,300,450,600],"labels":false,"title":null}},
     "y":{"field":"ef","type":"quantitative","scale":{"domain":[-1,15.07],"nice":false,"zero":false},"axis":{"orient":"right","values":[0,3,6,9,12,15],"labels":false,"title":null}}}}
  ],
  "resolve":{"axis":{"x":"independent","y":"independent"}}}
]
}
